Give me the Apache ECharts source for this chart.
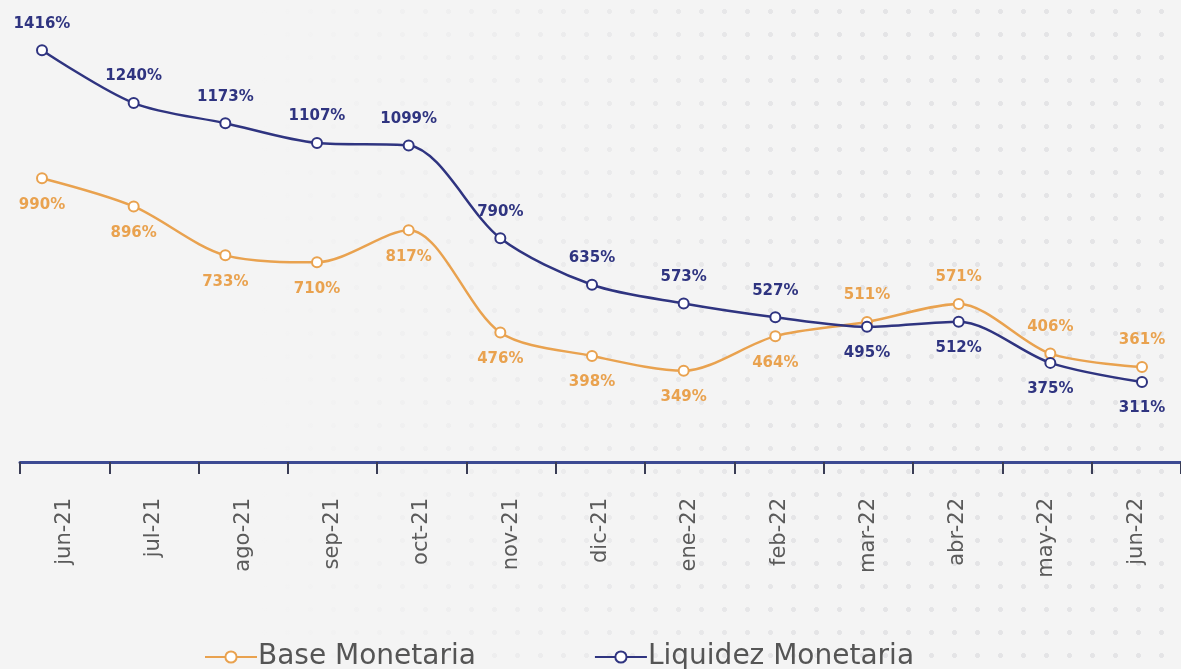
<!DOCTYPE html>
<html>
<head>
<meta charset="utf-8">
<script src="https://cdn.jsdelivr.net/npm/echarts@6/dist/echarts.min.js"></script>
<style>
  html, body { margin: 0; padding: 0; }
  body {
    width: 1181px;
    height: 669px;
    background-color: #f4f4f4;
    background-image:
      linear-gradient(to right, #f4f4f4 22%, rgba(244,244,244,0) 70%),
      radial-gradient(circle, rgba(205,205,210,0.4) 2.2px, transparent 2.7px);
    background-size: auto, 23px 23px;
  }
  #chart { width: 1181px; height: 669px; }
</style>
</head>
<body>
<div id="chart"></div>
<script>
const months = ['jun-21', 'jul-21', 'ago-21', 'sep-21', 'oct-21', 'nov-21', 'dic-21',
  'ene-22', 'feb-22', 'mar-22', 'abr-22', 'may-22', 'jun-22']
const baseMonetaria = [990, 896, 733, 710, 817, 476, 398, 349, 464, 511, 571, 406, 361]
const liquidezMonetaria = [1416, 1240, 1173, 1107, 1099, 790, 635, 573, 527, 495, 512, 375, 311]

const orange = '#e9a24f'
const navy = '#2f3480'
const font = '"DejaVu Sans", Lato, sans-serif'

// liquidez sits above from jun-21 to feb-22, base takes over from mar-22
const flip = 9

const labelled = (values, before, after, color) =>
  values.map((v, i) => ({
    value: v,
    label: { position: i < flip ? before : after, color },
  }))

const pointLabel = {
  show: true,
  distance: 13,
  fontSize: 15,
  fontWeight: 'bold',
  fontFamily: font,
  formatter: '{c}%',
}

const chart = echarts.init(document.getElementById('chart'))
chart.setOption({
  animation: false,
  grid: [
    { left: 42, right: 39, top: 25, bottom: 193.5 },
    { left: 20, width: 1165, top: 30, bottom: 207 },
  ],
  legend: {
    top: 638,
    left: 199,
    itemGap: 118,
    itemWidth: 52,
    itemHeight: 14,
    textStyle: { color: '#555', fontSize: 28, fontFamily: font, padding: [0, 0, 0, -4] },
    data: ['Base Monetaria', 'Liquidez Monetaria'],
  },
  xAxis: [
    {
      gridIndex: 0,
      type: 'category',
      boundaryGap: false,
      data: months,
      show: false,
    },
    {
      gridIndex: 1,
      type: 'category',
      boundaryGap: true,
      data: months,
      axisLine: { lineStyle: { color: '#3c4a92', width: 3 } },
      axisTick: { show: true, length: 12, lineStyle: { color: '#3a3d55', width: 2 } },
      axisLabel: {
        rotate: 90,
        margin: 36,
        color: '#5a5a5a',
        fontSize: 21,
        fontFamily: font,
      },
    },
  ],
  yAxis: [
    { gridIndex: 0, type: 'value', min: 0, max: 1500, show: false },
    { gridIndex: 1, type: 'value', show: false },
  ],
  series: [
    {
      name: 'Base Monetaria',
      type: 'line',
      smooth: 0.3,
      symbol: 'emptyCircle',
      symbolSize: 10,
      color: orange,
      lineStyle: { width: 2.5, color: orange },
      itemStyle: { color: orange, borderWidth: 2 },
      label: pointLabel,
      data: labelled(baseMonetaria, 'bottom', 'top', orange),
    },
    {
      name: 'Liquidez Monetaria',
      type: 'line',
      smooth: 0.3,
      symbol: 'emptyCircle',
      symbolSize: 10,
      color: navy,
      lineStyle: { width: 2.5, color: navy },
      itemStyle: { color: navy, borderWidth: 2 },
      label: pointLabel,
      data: labelled(liquidezMonetaria, 'top', 'bottom', navy),
    },
  ],
})
</script>
</body>
</html>
